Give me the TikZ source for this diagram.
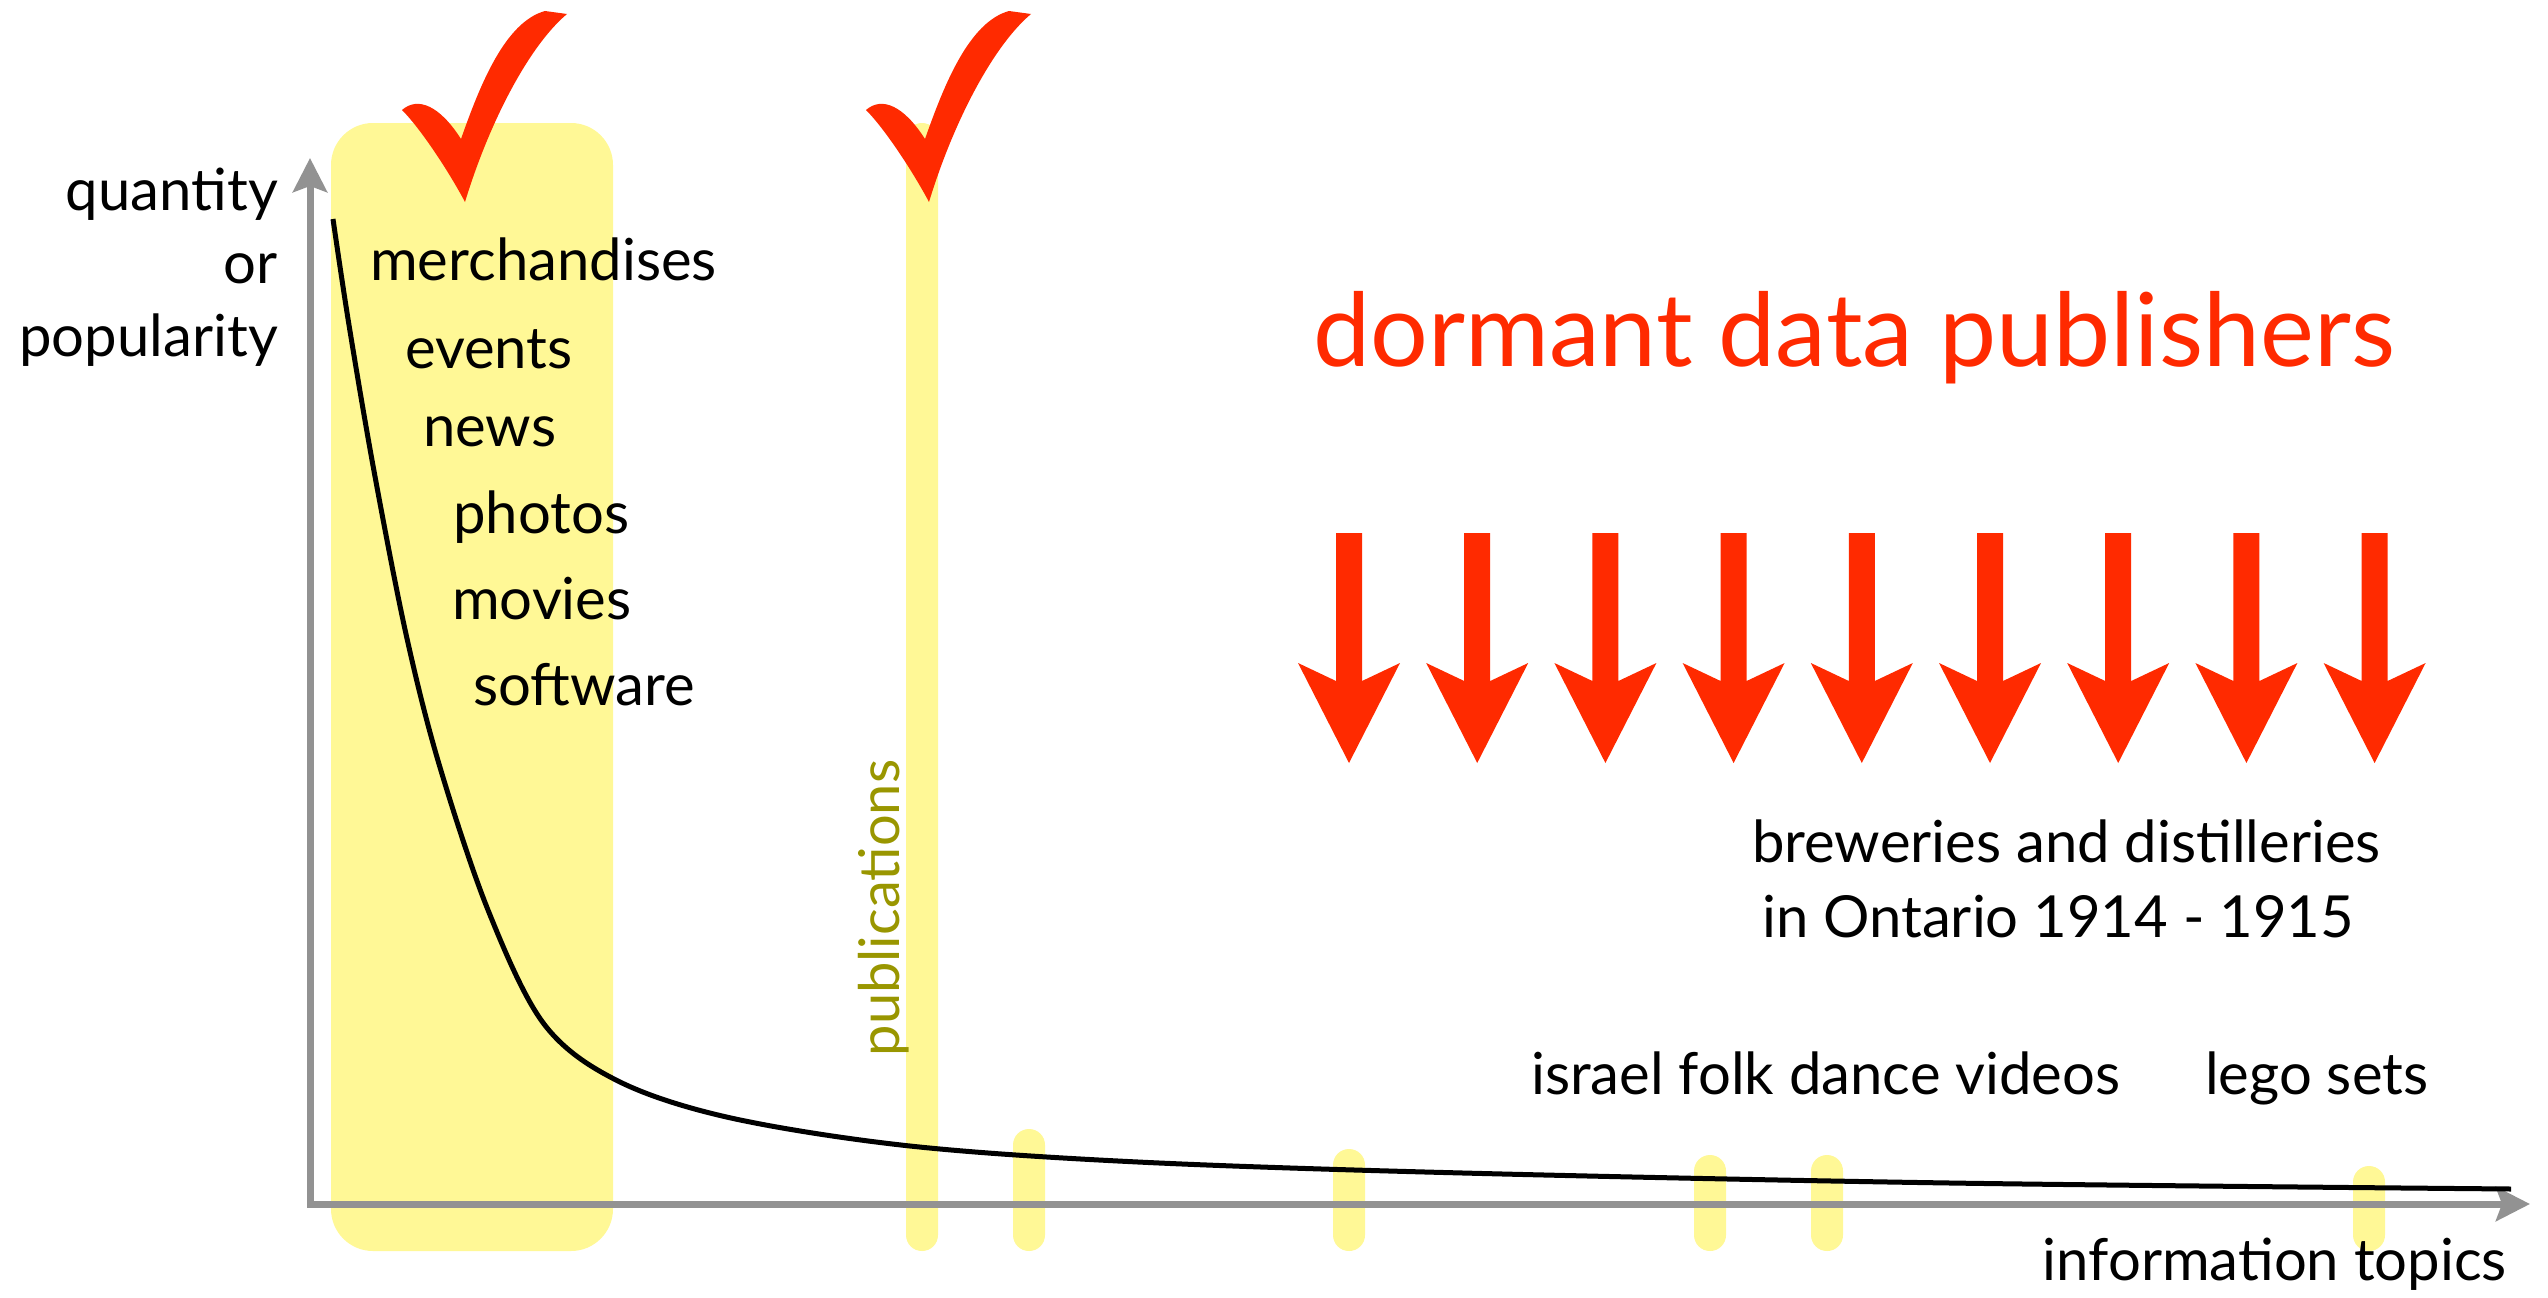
\documentclass[tikz,border=0pt]{standalone}
\usepackage{fontspec}
\setmainfont{Lato}
\usetikzlibrary{arrows.meta}
\definecolor{hlyellow}{RGB}{255,248,150}
\definecolor{chkred}{RGB}{255,42,0}
\definecolor{axgrey}{RGB}{146,146,146}
\definecolor{pubolive}{RGB}{153,150,0}
\tikzset{
  lbl/.style={inner sep=0pt, font=\fontsize{58}{60}\selectfont, text=black},
  bigred/.style={inner sep=0pt, font=\fontsize{102}{106}\selectfont, text=chkred},
  publbl/.style={inner sep=0pt, font=\fontsize{56}{60}\selectfont, text=pubolive},
  hlbar/.style={fill=hlyellow},
  axis/.style={draw=axgrey, line width=7pt, line join=miter,
    {Stealth[length=34pt,width=34pt,inset=6pt]}-{Stealth[length=34pt,width=34pt,inset=6pt]}},
  tailcurve/.style={draw=black, line width=5pt},
  tick/.style={fill=chkred},
  downarrow/.style={fill=chkred}
}
\newcommand{\hlpill}[4]{% name, x center, y top, y bottom
  \path[hlbar, rounded corners=15.9pt] (#2-16,#3) rectangle (#2+16,#4);
  \coordinate (#1) at (#2,#4);
}
\begin{document}
\begin{tikzpicture}[x=1pt,y=-1pt]
\useasboundingbox (0,0) rectangle (2548,1298);
% highlight regions
\path[hlbar, rounded corners=42pt] (331,123) rectangle (613,1251);
\hlpill{pub}{922}{123}{1251}
\hlpill{b1}{1029}{1129}{1251}
\hlpill{b2}{1349}{1149}{1251}
\hlpill{b3}{1710}{1155}{1251}
\hlpill{b4}{1827}{1155}{1251}
\hlpill{b5}{2369}{1166}{1251}
% axes
\coordinate (ytop) at (310,158);
\coordinate (origin) at (310,1204);
\coordinate (xend) at (2530,1204);
\draw[axis] (ytop) -- (origin) -- (xend);
% long tail curve
\draw[tailcurve] plot[smooth, tension=0.55] coordinates {
 (333,219) (349,325) (374,471) (406,634) (439,764) (488,910) (544,1024)
 (618,1081) (731,1118) (910,1146) (1138,1162) (1463,1173) (1950,1183) (2511,1189)};
% axis labels
\node[lbl, anchor=base east] (q1) at (278,210) {quantity};
\node[lbl, anchor=base east] (q2) at (278,283) {or};
\node[lbl, anchor=base east] (q3) at (278,356) {popularity};
\node[lbl, anchor=base east] (xt) at (2507,1280) {information topics};
% head items
\node[lbl, anchor=base west] (m1) at (370,280) {merchandises};
\node[lbl, anchor=base west] (m2) at (405,368) {events};
\node[lbl, anchor=base west] (m3) at (423,446) {news};
\node[lbl, anchor=base west] (m4) at (453,533) {photos};
\node[lbl, anchor=base west] (m5) at (452,619) {movies};
\node[lbl, anchor=base west] (m6) at (473,705) {software};
\node[publbl, anchor=base, rotate=90] (pubt) at (899,908) {publications};
% title
\node[bigred, anchor=base west] (title) at (1313,366) {dormant data publishers};
% tail items
\node[lbl, anchor=base west] (t1) at (1752,862) {breweries and distilleries};
\node[lbl, anchor=base west] (t2) at (1762,937) {in Ontario 1914 - 1915};
\node[lbl, anchor=base west] (t3) at (1531,1094) {israel folk dance videos};
\node[lbl, anchor=base west] (t4) at (2205,1094) {lego sets};
% checkmarks
\foreach \dx/\nm in {0/c1,464/c2}{
\begin{scope}[shift={(\dx,0)}]
\path[tick] (402,110) .. controls (418,96) and (440,106) .. (461,139)
  .. controls (480,85) and (505,22) .. (545,11) -- (567,14)
  .. controls (530,45) and (490,120) .. (465,202)
  .. controls (448,170) and (420,128) .. cycle;
\coordinate (\nm) at (465,202);
\end{scope}}
% down arrows
\foreach \i in {0,...,8}{
\begin{scope}[shift={({1349+128.2*\i},0)}]
\path[downarrow] (-13,533) -- (13,533) -- (13,681) -- (51,663) -- (0,763) -- (-51,663) -- (-13,681) -- cycle;
\coordinate (arr\i) at (0,763);
\end{scope}}
\end{tikzpicture}
\end{document}
